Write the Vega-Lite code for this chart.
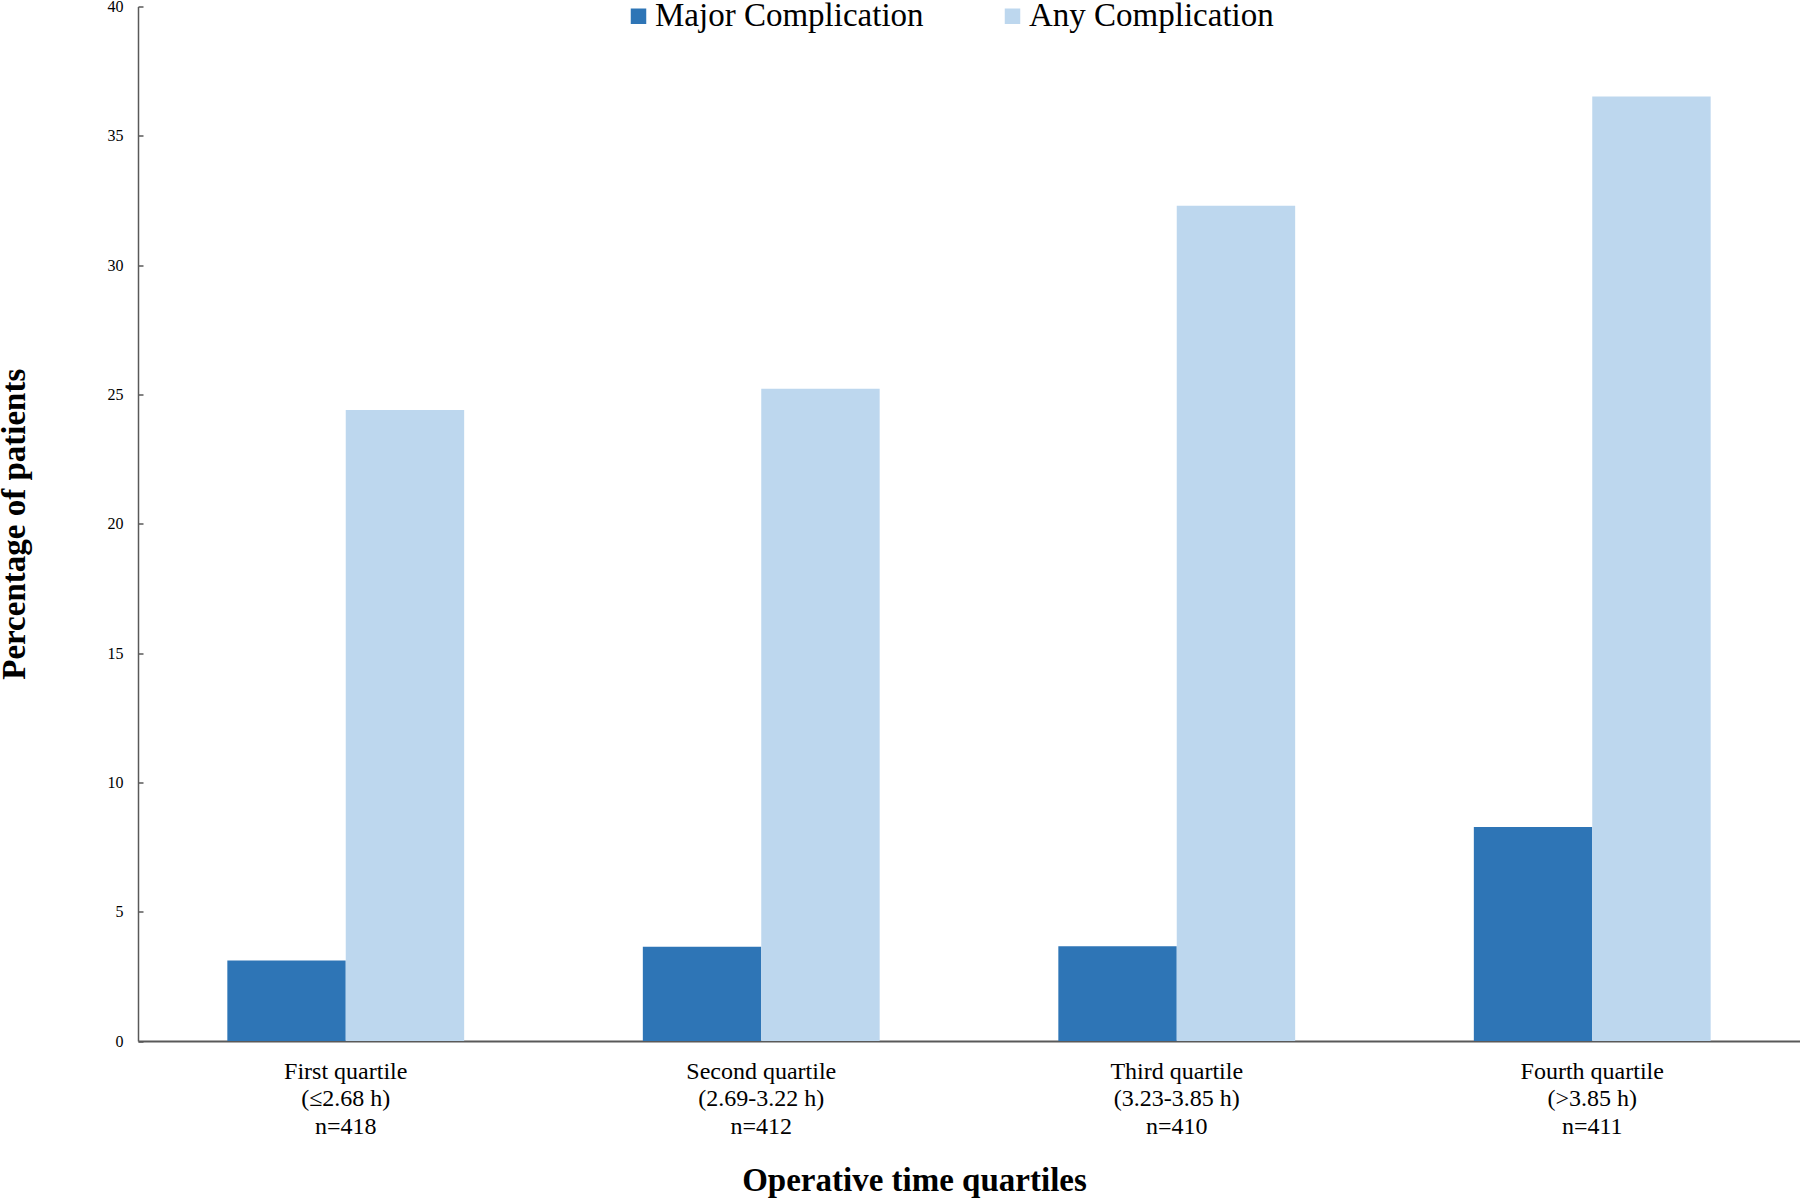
{
  "$schema": "https://vega.github.io/schema/vega-lite/v6.json",
  "width": 1662,
  "height": 1034.5,
  "autosize": {"type": "none"},
  "padding": {"left": 138, "top": 6.5, "right": 0, "bottom": 159},
  "background": "white",
  "data": {
    "values": [
      {"quartile": "First quartile|(≤2.68 h)|n=418", "series": "Major Complication", "pct": 3.11},
      {"quartile": "First quartile|(≤2.68 h)|n=418", "series": "Any Complication", "pct": 24.4},
      {"quartile": "Second quartile|(2.69-3.22 h)|n=412", "series": "Major Complication", "pct": 3.64},
      {"quartile": "Second quartile|(2.69-3.22 h)|n=412", "series": "Any Complication", "pct": 25.22},
      {"quartile": "Third quartile|(3.23-3.85 h)|n=410", "series": "Major Complication", "pct": 3.66},
      {"quartile": "Third quartile|(3.23-3.85 h)|n=410", "series": "Any Complication", "pct": 32.3},
      {"quartile": "Fourth quartile|(>3.85 h)|n=411", "series": "Major Complication", "pct": 8.27},
      {"quartile": "Fourth quartile|(>3.85 h)|n=411", "series": "Any Complication", "pct": 36.52}
    ]
  },
  "mark": {"type": "bar"},
  "encoding": {
    "x": {
      "field": "quartile",
      "type": "nominal",
      "sort": null,
      "scale": {"paddingInner": 0.43, "paddingOuter": 0.215},
      "axis": {
        "title": "Operative time quartiles",
        "titleX": 776,
        "labelAngle": 0,
        "labelExpr": "split(datum.label, '|')",
        "labelFont": "Liberation Serif",
        "labelFontSize": 24,
        "labelLineHeight": 27.5,
        "labelColor": "black",
        "labelPadding": 18,
        "ticks": false,
        "domainColor": "#595959",
        "domainWidth": 2,
        "titleFont": "Liberation Serif",
        "titleFontSize": 33,
        "titleFontWeight": "bold",
        "titleColor": "black",
        "titlePadding": 26
      }
    },
    "xOffset": {
      "field": "series",
      "type": "nominal",
      "sort": ["Major Complication", "Any Complication"],
      "scale": {"paddingInner": 0, "paddingOuter": 0}
    },
    "y": {
      "field": "pct",
      "type": "quantitative",
      "scale": {"domain": [0, 40], "nice": false},
      "axis": {
        "title": "Percentage of patients",
        "values": [0, 5, 10, 15, 20, 25, 30, 35, 40],
        "grid": false,
        "tickSize": -5,
        "tickColor": "#595959",
        "tickWidth": 1.5,
        "labelPadding": 20,
        "labelFont": "Liberation Serif",
        "labelFontSize": 16,
        "labelColor": "black",
        "domainColor": "#595959",
        "domainWidth": 1.5,
        "titleFont": "Liberation Serif",
        "titleFontSize": 33,
        "titleFontWeight": "bold",
        "titleColor": "black",
        "titlePadding": 76
      }
    },
    "color": {
      "field": "series",
      "type": "nominal",
      "sort": ["Major Complication", "Any Complication"],
      "scale": {"domain": ["Major Complication", "Any Complication"], "range": ["#2E75B6", "#BDD7EE"]},
      "legend": {
        "title": null,
        "orient": "none",
        "direction": "horizontal",
        "legendX": 484,
        "legendY": -7,
        "padding": 0,
        "symbolType": "square",
        "symbolSize": 240,
        "symbolStrokeWidth": 0,
        "labelFont": "Liberation Serif",
        "labelFontSize": 33,
        "labelColor": "black",
        "labelOffset": 0,
        "labelLimit": 400,
        "columnPadding": 72
      }
    }
  },
  "config": {
    "view": {"stroke": null}
  }
}
